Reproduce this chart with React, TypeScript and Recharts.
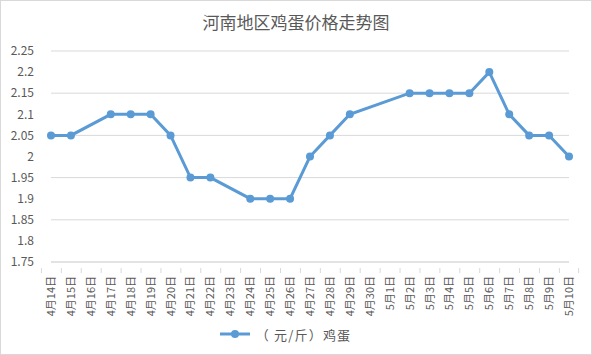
import { LineChart, Line, XAxis, YAxis, CartesianGrid, Legend } from 'recharts';

const days = [
  '4月14日', '4月15日', '4月16日', '4月17日', '4月18日', '4月19日', '4月20日', '4月21日', '4月22日',
  '4月23日', '4月24日', '4月25日', '4月26日', '4月27日', '4月28日', '4月29日', '4月30日',
  '5月1日', '5月2日', '5月3日', '5月4日', '5月5日', '5月6日', '5月7日', '5月8日', '5月9日', '5月10日',
];

const eggPrice: (number | null)[] = [
  2.05, 2.05, null, 2.1, 2.1, 2.1, 2.05, 1.95, 1.95,
  null, 1.9, 1.9, 1.9, 2.0, 2.05, 2.1, null,
  null, 2.15, 2.15, 2.15, 2.15, 2.2, 2.1, 2.05, 2.05, 2.0,
];

const yTicks = [1.75, 1.8, 1.85, 1.9, 1.95, 2, 2.05, 2.1, 2.15, 2.2, 2.25];

const seriesName = '（ 元/斤）鸡蛋';

const data = days.map((d, i) => ({ day: d, price: eggPrice[i] }));

const font = '"Noto Sans CJK SC", "Microsoft YaHei", sans-serif';
const textColor = '#595959';
const gridColor = '#d9d9d9';
const lineColor = '#5b9bd5';

const band = 518 / days.length;

function DayTick(props: any) {
  const { x, y, payload, index } = props;
  const isLast = index === days.length - 1;
  return (
    <g>
      <line x1={x - band / 2} y1={y - 8} x2={x - band / 2} y2={y - 3} stroke={gridColor} />
      {isLast && <line x1={x + band / 2} y1={y - 8} x2={x + band / 2} y2={y - 3} stroke={gridColor} />}
      <text
        x={0}
        y={0}
        transform={`translate(${x + 4},${y}) rotate(-90)`}
        textAnchor="end"
        fill={textColor}
        fontSize={11}
        fontFamily={font}
      >
        {payload.value}
      </text>
    </g>
  );
}

function EggLegend() {
  return (
    <div style={{ display: 'flex', justifyContent: 'center', alignItems: 'center', height: 20 }}>
      <svg width={32} height={12} style={{ marginRight: 5 }}>
        <line x1={1} y1={6} x2={31} y2={6} stroke={lineColor} strokeWidth={3} />
        <circle cx={16} cy={6} r={4} fill={lineColor} />
      </svg>
      <span style={{ color: textColor, fontSize: 13, fontFamily: font, letterSpacing: 1.2 }}>{seriesName}</span>
    </div>
  );
}

export default function App() {
  return (
    <div
      style={{
        position: 'absolute',
        left: 0,
        top: 0,
        width: 592,
        height: 355,
        border: `1px solid ${gridColor}`,
        boxSizing: 'border-box',
        background: '#fff',
        fontFamily: font,
      }}
    >
      <div
        style={{
          position: 'absolute',
          top: 8,
          left: 0,
          width: '100%',
          textAlign: 'center',
          fontSize: 17,
          color: textColor,
        }}
      >
        河南地区鸡蛋价格走势图
      </div>
      <LineChart
        width={590}
        height={353}
        data={data}
        margin={{ top: 50, right: 22, left: 0, bottom: 8 }}
      >
        <CartesianGrid vertical={false} stroke={gridColor} />
        <XAxis
          dataKey="day"
          interval={0}
          height={62}
          stroke={gridColor}
          tickLine={false}
          tick={<DayTick />}
          tickMargin={8}
        />
        <YAxis
          width={50}
          domain={[1.75, 2.25]}
          ticks={yTicks}
          axisLine={false}
          tickLine={false}
          tick={{ fill: textColor, fontSize: 12, fontFamily: font }}
          tickMargin={11}
        />
        <Legend verticalAlign="bottom" height={22} content={<EggLegend />} />
        <Line
          type="linear"
          dataKey="price"
          name={seriesName}
          stroke={lineColor}
          strokeWidth={3}
          dot={{ r: 4, fill: lineColor, stroke: lineColor, strokeWidth: 0 }}
          connectNulls
          isAnimationActive={false}
        />
      </LineChart>
    </div>
  );
}
